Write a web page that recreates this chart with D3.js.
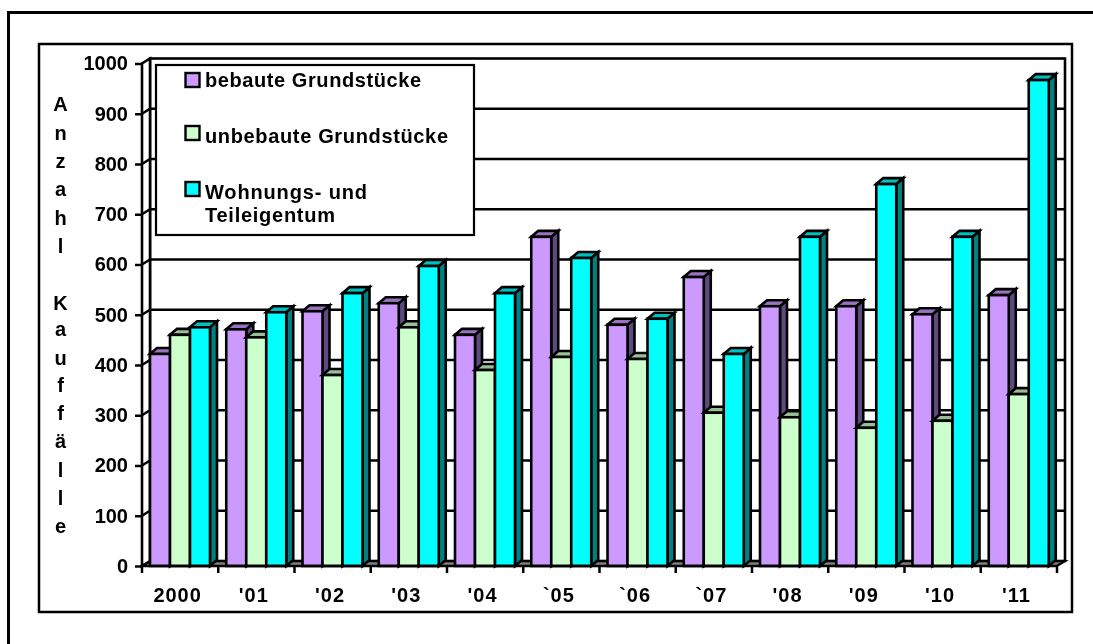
<!DOCTYPE html>
<html><head><meta charset="utf-8">
<script src="https://cdn.jsdelivr.net/npm/d3@7"></script>
<style>
html,body{margin:0;padding:0;background:#fff}
svg{display:block}
text{font-family:"Liberation Sans",Arial,sans-serif;font-weight:bold;fill:#000}
</style></head><body>
<svg id="c" width="1093" height="644"><defs><filter id="soft" x="0" y="0" width="100%" height="100%"><feGaussianBlur stdDeviation="0.4"/></filter></defs></svg>
<script>
const categories=["2000","'01","'02","'03","'04","`05","`06","`07","'08","'09","'10","'11"];
const seriesNames=["bebaute Grundstücke","unbebaute Grundstücke","Wohnungs- und Teileigentum"];
const bebaut=[422,471,507,523,460,655,480,575,517,517,501,539];
const unbebaut=[460,455,380,475,390,416,412,305,296,275,289,342];
const wohnung=[475,505,543,597,543,613,492,422,655,760,655,967];
const yTicks=[0,100,200,300,400,500,600,700,800,900,1000];
const titleA=["A","n","z","a","h","l"];
const titleB=["K","a","u","f","f","ä","l","l","e"];
const fills=["#CC99FF","#CCFFCC","#00FFFF"];
const tops=["#9973BF","#99BF99","#00BFBF"];
const sides=["#5F4A80","#668066","#008080"];

const root=d3.select("#c").append("g").attr("filter","url(#soft)");
root.append("rect").attr("width",1093).attr("height",644).attr("fill","#fff");
const svg=root;
const x=d3.scaleBand().domain(categories).range([142,1057]);
const y=d3.scaleLinear().domain([0,1000]).range([566,63.5]);
const inner=d3.scaleBand().domain(seriesNames).range([8,68]);
const wallD=[8,5], barD=[7,6];
const black="#000";

// outer frames
svg.append("path").attr("d","M8.5,644V12.5H1093").attr("fill","none").attr("stroke",black).attr("stroke-width",3);
svg.append("rect").attr("x",39).attr("y",44).attr("width",1033).attr("height",568).attr("fill","#fff").attr("stroke",black).attr("stroke-width",2.5);

// walls and floor
const bx0=x.range()[0]+wallD[0], bx1=x.range()[1]+wallD[0];
const y0=y(0), y1=y(1000);
const poly=pts=>d3.line()(pts)+"Z";
svg.append("path").attr("d",poly([[x.range()[0],y0],[bx0,y0-wallD[1]],[bx1,y0-wallD[1]],[x.range()[1],y0]])).attr("fill","#808080").attr("stroke",black).attr("stroke-width",2.2);
svg.append("rect").attr("x",bx0).attr("y",y1-wallD[1]).attr("width",bx1-bx0).attr("height",y0-y1).attr("fill","#fff").attr("stroke",black).attr("stroke-width",2.6);
svg.append("path").attr("d",poly([[x.range()[0],y0],[bx0,y0-wallD[1]],[bx0,y1-wallD[1]],[x.range()[0],y1]])).attr("fill","#fff").attr("stroke",black).attr("stroke-width",2.6);

// gridlines and side-wall ticks
svg.append("g").selectAll("path").data(yTicks.filter(d=>d>0&&d<1000)).join("path")
  .attr("d",d=>`M${x.range()[0]},${y(d)}L${bx0},${y(d)-wallD[1]}H${bx1}`)
  .attr("fill","none").attr("stroke",black).attr("stroke-width",2.5);

// axes
const ya=svg.append("g").attr("transform",`translate(${x.range()[0]},0)`)
  .call(d3.axisLeft(y).tickValues(yTicks).tickSize(7).tickPadding(7).tickFormat(d3.format("d")));
ya.select(".domain").remove();
ya.selectAll("line").attr("stroke",black).attr("stroke-width",2.5);
ya.selectAll("text").attr("font-size",20).attr("dy","0.32em");

// bars
const series=[bebaut,unbebaut,wohnung];
categories.forEach((c,i)=>{
  const g=svg.append("g");
  series.forEach((vals,s)=>{
    const l=x(c)+inner(seriesNames[s]), w=inner.bandwidth(), t=y(vals[i]), b=y(0), r=l+w;
    const b1=g.append("g").attr("stroke",black).attr("stroke-width",2.6).attr("stroke-linejoin","miter");
    b1.append("path").attr("d",poly([[r,b],[r+barD[0],b-barD[1]],[r+barD[0],t-barD[1]],[r,t]])).attr("fill",sides[s]);
    b1.append("path").attr("d",poly([[l,t],[l+barD[0],t-barD[1]],[r+barD[0],t-barD[1]],[r,t]])).attr("fill",tops[s]);
    b1.append("rect").attr("x",l).attr("y",t).attr("width",w).attr("height",b-t).attr("fill",fills[s]);
  });
});

// x axis
const xa=svg.append("g").attr("transform",`translate(0,${y0})`);
xa.append("line").attr("x1",x.range()[0]).attr("x2",x.range()[1]).attr("stroke",black).attr("stroke-width",2.6);
const edges=categories.map(c=>x(c)).concat(x.range()[1]);
xa.selectAll("line.t").data(edges).join("line").attr("class","t").attr("x1",d=>d).attr("x2",d=>d).attr("y1",0).attr("y2",7).attr("stroke",black).attr("stroke-width",2.5);
xa.selectAll("text").data(categories).join("text")
  .attr("x",d=>x(d)+x.bandwidth()/2-2.5).attr("y",36).attr("text-anchor","middle")
  .attr("font-size",20).attr("letter-spacing",1).text(d=>d);

// y title
svg.append("g").selectAll("text").data(titleA).join("text").attr("x",60.5).attr("y",(d,i)=>[111,140,168,196,225,253][i]).attr("text-anchor","middle").attr("font-size",20).text(d=>d);
svg.append("g").selectAll("text").data(titleB).join("text").attr("x",60.5).attr("y",(d,i)=>[310,336,365,392,420,448,477,505,533][i]).attr("text-anchor","middle").attr("font-size",20).text(d=>d);

// legend
const lg=svg.append("g");
lg.append("rect").attr("x",156).attr("y",65).attr("width",318).attr("height",170).attr("fill","#fff").attr("stroke",black).attr("stroke-width",2.2);
const swY=[73,126,182];
lg.selectAll("rect.s").data(fills).join("rect").attr("class","s").attr("x",185.5).attr("y",(d,i)=>swY[i]).attr("width",14).attr("height",14).attr("fill",d=>d).attr("stroke",black).attr("stroke-width",2.4);
const legendLines=[seriesNames[0],seriesNames[1],"Wohnungs- und","Teileigentum"];
const lgY=[87,143,199,222];
const lgW=[216,243,162,130];
lg.selectAll("text").data(legendLines).join("text").attr("x",205).attr("y",(d,i)=>lgY[i]).attr("font-size",20).attr("textLength",(d,i)=>lgW[i]).attr("lengthAdjust","spacing").text(d=>d);
</script>
</body></html>
